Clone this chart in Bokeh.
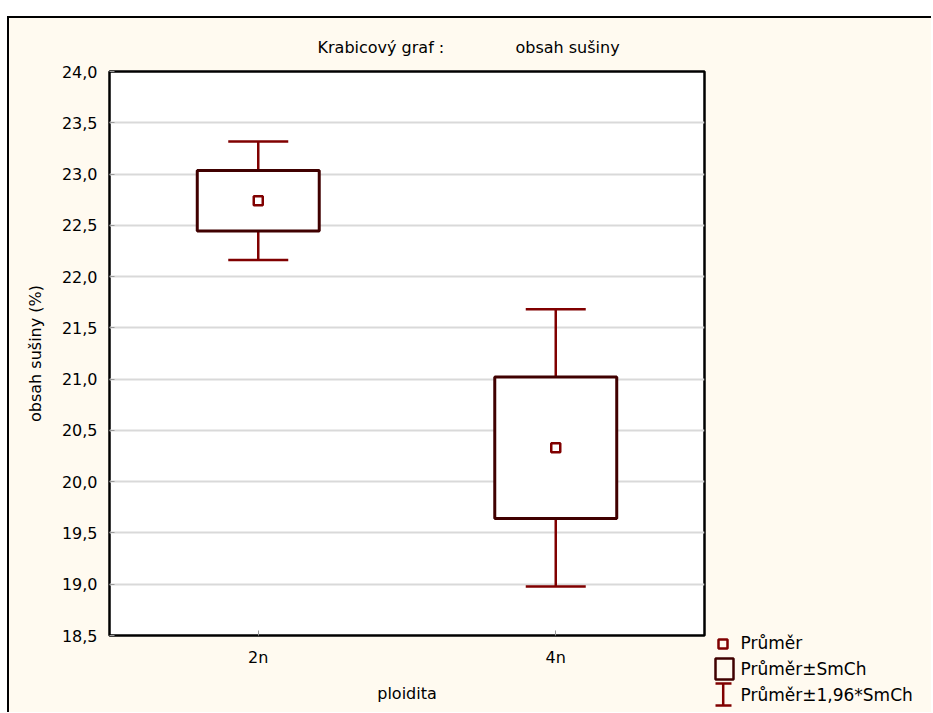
from bokeh.plotting import figure
from bokeh.models import (Range1d, FactorRange, FixedTicker, Whisker, TeeHead,
                          ColumnDataSource)
from bokeh.layouts import row
from bokeh.core.properties import value
from bokeh.embed import file_html
from bokeh.resources import INLINE

# ---- data ----
groups = ["2n", "4n"]
means = [22.74, 20.33]
se = [0.295, 0.69]
y_ticks = [18.5, 19.0, 19.5, 20.0, 20.5, 21.0, 21.5, 22.0, 22.5, 23.0, 23.5, 24.0]
y_tick_labels = ["18,5", "19,0", "19,5", "20,0", "20,5", "21,0", "21,5",
                 "22,0", "22,5", "23,0", "23,5", "24,0"]
legend_labels = ["Průměr", "Průměr±SmCh", "Průměr±1,96*SmCh"]

box_lo = [m - s for m, s in zip(means, se)]
box_hi = [m + s for m, s in zip(means, se)]
wh_lo = [m - 1.96 * s for m, s in zip(means, se)]
wh_hi = [m + 1.96 * s for m, s in zip(means, se)]

CREAM = "#FFFAF0"
DARK = "#400000"
RED = "#800000"
FONT = "DejaVu Sans"

TOP, BOTTOM, H = 53, 77, 694

main = figure(width=700, height=H,
              x_range=FactorRange(factors=groups, range_padding=0),
              y_range=Range1d(18.5, 24.0),
              output_backend="svg", toolbar_location=None,
              min_border_left=100, min_border_right=5,
              min_border_top=TOP, min_border_bottom=BOTTOM)
main.border_fill_color = CREAM
main.background_fill_color = "white"
main.outline_line_color = "black"
main.outline_line_width = 2.5

main.title.text = "Krabicový graf :" + "\u00a0" * 14 + "obsah sušiny"
main.title.align = "left"
main.title.offset = 208
main.title.standoff = 29
main.title.text_font = FONT
main.title.text_font_size = "16px"
main.title.text_font_style = "normal"
main.title.text_color = "black"

main.yaxis.ticker = FixedTicker(ticks=y_ticks)
main.yaxis.major_label_overrides = dict(zip(y_ticks, y_tick_labels))
main.yaxis.axis_label = "obsah sušiny (%)"
main.xaxis.axis_label = "ploidita"
for ax in (main.xaxis, main.yaxis):
    ax.axis_line_color = None
    ax.major_tick_in = 5
    ax.major_tick_out = 0
    ax.major_tick_line_color = "#999999"
    ax.minor_tick_line_color = None
    ax.major_label_text_font = FONT
    ax.major_label_text_font_size = "16px"
    ax.major_label_text_color = "black"
    ax.axis_label_text_font = FONT
    ax.axis_label_text_font_size = "16px"
    ax.axis_label_text_font_style = "normal"
    ax.axis_label_text_color = "black"
main.yaxis.major_label_standoff = 12
main.yaxis.axis_label_standoff = 14
main.xaxis.major_label_standoff = 12
main.xaxis.axis_label_standoff = 14

main.xgrid.grid_line_color = None
main.ygrid.grid_line_color = "#d9d9d9"
main.ygrid.grid_line_width = 2

src = ColumnDataSource(dict(base=groups, lower=wh_lo, upper=wh_hi))
wh = Whisker(base="base", lower="lower", upper="upper", source=src,
             line_color=RED, line_width=2.5, level="underlay",
             upper_head=TeeHead(size=60, line_color=RED, line_width=2.5),
             lower_head=TeeHead(size=60, line_color=RED, line_width=2.5))
main.add_layout(wh)

main.vbar(x=groups, bottom=box_lo, top=box_hi, width=0.41,
          fill_color="white", line_color=DARK, line_width=3)
main.scatter(x=groups, y=means, marker="square", size=9,
             fill_color="white", line_color=RED, line_width=2.5)

# ---- legend panel (pixel-like coordinates, drawn unclipped) ----
leg = figure(width=222, height=H, x_range=Range1d(0, 222),
             y_range=Range1d(H - BOTTOM, TOP), output_backend="svg",
             toolbar_location=None, x_axis_type=None, y_axis_type=None,
             title=None, min_border_left=0, min_border_right=0,
             min_border_top=TOP, min_border_bottom=BOTTOM)
leg.grid.visible = False
leg.outline_line_color = None
leg.border_fill_color = CREAM
leg.background_fill_color = CREAM

r1 = leg.scatter(x=[13.5], y=[625.5], marker="square", size=9,
                 fill_color=CREAM, line_color=RED, line_width=2.5)
r2 = leg.rect(x=[15], y=[650.5], width=18, height=21,
              fill_color=CREAM, line_color=DARK, line_width=2.5)
r3 = leg.segment(x0=[13.7, 6, 6], y0=[665, 665, 687], x1=[13.7, 22, 22],
                 y1=[687, 665, 687], line_color=RED, line_width=2.5)
r4 = leg.text(x=[31, 31, 31], y=[624, 650, 676], text=legend_labels,
              text_font=value(FONT), text_font_size="17px",
              text_baseline="middle", text_align="left", text_color="black")
for r in (r1, r2, r3, r4):
    r.level = "overlay"

layout = row(main, leg, styles={"margin-top": "16px",
                                "margin-left": "7px",
                                "border-top": "2px solid black",
                                "border-left": "2px solid black",
                                "background-color": CREAM})

open("out.html", "w").write(file_html(layout, INLINE))
